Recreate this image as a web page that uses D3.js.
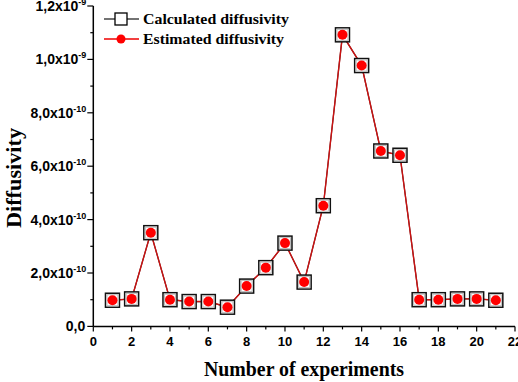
<!DOCTYPE html>
<html><head><meta charset="utf-8">
<script src="https://cdn.jsdelivr.net/npm/d3@7"></script>
<style>body{margin:0;background:#fff}svg{display:block}</style>
</head><body>
<script>
const experiments = [1,2,3,4,5,6,7,8,9,10,11,12,13,14,15,16,17,18,19,20,21];
const calculated = [0.98e-10,1.03e-10,3.51e-10,1.0e-10,0.93e-10,0.93e-10,0.72e-10,1.51e-10,2.2e-10,3.12e-10,1.66e-10,4.52e-10,10.92e-10,9.77e-10,6.57e-10,6.41e-10,1.0e-10,1.0e-10,1.03e-10,1.03e-10,0.98e-10];
const estimated = [0.98e-10,1.03e-10,3.51e-10,1.0e-10,0.93e-10,0.93e-10,0.72e-10,1.51e-10,2.2e-10,3.12e-10,1.66e-10,4.52e-10,10.92e-10,9.77e-10,6.57e-10,6.41e-10,1.0e-10,1.0e-10,1.03e-10,1.03e-10,0.98e-10];
const xTicks = [0,2,4,6,8,10,12,14,16,18,20,22];
const yTicks = [0,2e-10,4e-10,6e-10,8e-10,10e-10,12e-10];
const yTickMant = ["0,0","2,0","4,0","6,0","8,0","1,0","1,2"];
const yTickExp = [null,"-10","-10","-10","-10","-9","-9"];
const seriesNames = ["Calculated diffusivity","Estimated diffusivity"];

const W=518,H=382;
const svg=d3.select("body").append("svg").attr("width",W).attr("height",H);
const x=d3.scaleLinear().domain([0,22]).range([93.3,515]);
const y=d3.scaleLinear().domain([0,1.2e-9]).range([326.4,6]);

const g=svg.append("g");
// x axis
const xa=g.append("g").attr("transform",`translate(0,${y(0)})`);
xa.append("line").attr("x1",x(0)).attr("x2",x(22)).attr("stroke","#000").attr("stroke-width",1.5);
d3.range(0,23).forEach(v=>{
  xa.append("line").attr("x1",x(v)).attr("x2",x(v)).attr("y1",0).attr("y2",v%2===0?5:3).attr("stroke","#000").attr("stroke-width",1.2);
});
xTicks.forEach(v=>{
  xa.append("text").attr("x",x(v)).attr("y",20).attr("text-anchor","middle")
    .attr("font-family","Liberation Sans, Arial, sans-serif").attr("font-weight","bold").attr("font-size",13).text(v);
});
// y axis
const ya=g.append("g").attr("transform",`translate(${x(0)},0)`);
ya.append("line").attr("y1",y(0)).attr("y2",y(1.2e-9)).attr("stroke","#000").attr("stroke-width",1.5);
d3.range(0,13).forEach(i=>{
  const v=i*1e-10;
  ya.append("line").attr("x1",0).attr("x2",i%2===0?-6:-3).attr("y1",y(v)).attr("y2",y(v)).attr("stroke","#000").attr("stroke-width",1.2);
});
yTicks.forEach((v,i)=>{
  const t=ya.append("text").attr("y",y(v)+5).attr("text-anchor","end")
    .attr("font-family","Liberation Sans, Arial, sans-serif").attr("font-weight","bold").attr("font-size",14);
  if(yTickExp[i]){
    t.attr("x",-7);
    t.append("tspan").text(yTickMant[i]+"x10");
    t.append("tspan").attr("dy",-6).attr("font-size",9).text(yTickExp[i]);
  } else {
    t.attr("x",-8).text(yTickMant[i]);
  }
});

// axis titles
svg.append("text").attr("x",304).attr("y",376).attr("text-anchor","middle")
  .attr("font-family","Liberation Serif, serif").attr("font-weight","bold").attr("font-size",20)
  .attr("textLength",200).attr("lengthAdjust","spacingAndGlyphs").text("Number of experiments");
svg.append("text").attr("transform",`translate(21,${178}) rotate(-90)`).attr("text-anchor","middle")
  .attr("font-family","Liberation Serif, serif").attr("font-weight","bold").attr("font-size",21)
  .attr("textLength",100).attr("lengthAdjust","spacingAndGlyphs").text("Diffusivity");

// lines
const line=d3.line().x((d,i)=>x(experiments[i])).y(d=>y(d));
svg.append("path").datum(calculated).attr("d",line).attr("fill","none").attr("stroke","#333").attr("stroke-width",1.2);
svg.append("path").datum(estimated).attr("d",line).attr("fill","none").attr("stroke","#cc1111").attr("stroke-width",1.4);
// squares
svg.selectAll("rect.c").data(calculated).enter().append("rect")
  .attr("x",(d,i)=>x(experiments[i])-7).attr("y",d=>y(d)-7).attr("width",14).attr("height",14)
  .attr("fill","#fff").attr("stroke","#111").attr("stroke-width",1.5);
svg.selectAll("rect.c2").data(calculated).enter().append("rect")
  .attr("x",(d,i)=>x(experiments[i])-5.5).attr("y",d=>y(d)-5.5).attr("width",11).attr("height",11)
  .attr("fill","none").attr("stroke","#bbb").attr("stroke-width",1);
svg.selectAll("circle.e").data(estimated).enter().append("circle")
  .attr("cx",(d,i)=>x(experiments[i])).attr("cy",d=>y(d)).attr("r",5).attr("fill","#ff0000");

// legend
const lg=svg.append("g");
lg.append("line").attr("x1",104).attr("x2",139).attr("y1",19).attr("y2",19).attr("stroke","#444").attr("stroke-width",1.3);
lg.append("rect").attr("x",115).attr("y",13).attr("width",12).attr("height",12).attr("fill","#fff").attr("stroke","#000").attr("stroke-width",1.3);
lg.append("line").attr("x1",104).attr("x2",139).attr("y1",39).attr("y2",39).attr("stroke","#e00").attr("stroke-width",1.3);
lg.append("circle").attr("cx",121).attr("cy",39).attr("r",4.5).attr("fill","#f00");
const legLens=[146,141];
seriesNames.forEach((s,i)=>{
  lg.append("text").attr("x",143).attr("y",24+i*20).attr("font-family","Liberation Serif, serif")
    .attr("font-weight","bold").attr("font-size",15).attr("textLength",legLens[i]).attr("lengthAdjust","spacingAndGlyphs").text(s);
});
</script>
</body></html>
